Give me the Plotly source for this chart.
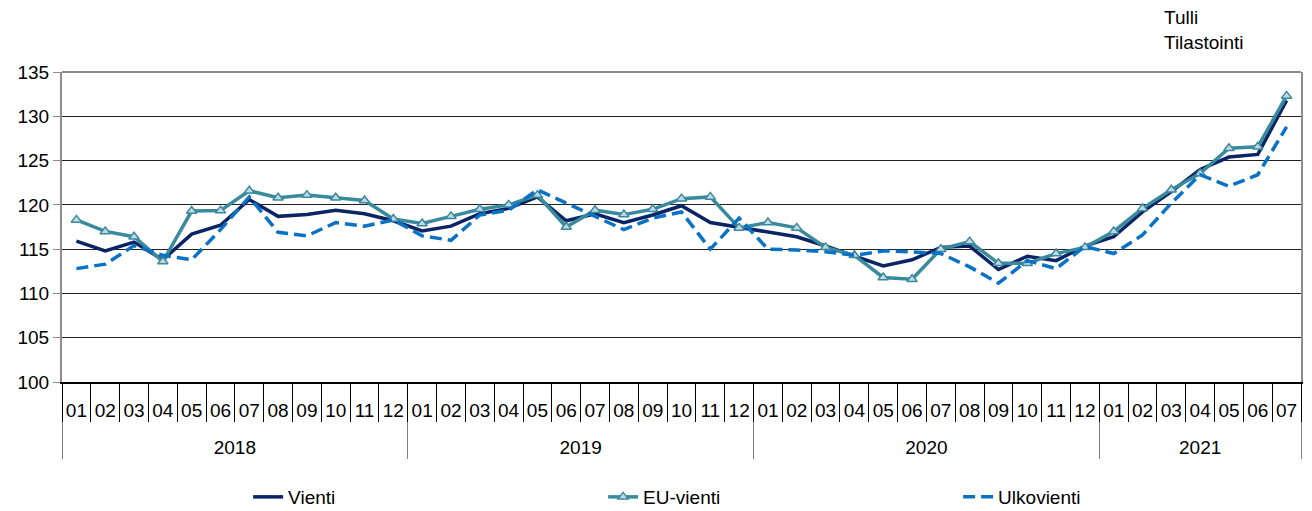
import plotly.graph_objects as go

years = ["2018"] * 12 + ["2019"] * 12 + ["2020"] * 12 + ["2021"] * 7
months = [f"{m:02d}" for m in range(1, 13)] * 3 + [f"{m:02d}" for m in range(1, 8)]

vienti = [115.9, 114.8, 115.8, 113.8, 116.7, 117.7, 120.6, 118.7, 118.9, 119.4, 119.0, 118.2,
          117.05, 117.6, 119.0, 119.6, 120.9, 118.2, 119.0, 118.0, 118.85, 119.9, 118.0, 117.5,
          117.0, 116.4, 115.35, 114.2, 113.1, 113.8, 115.2, 115.35, 112.7, 114.2, 113.7, 115.35,
          116.4, 119.2, 121.5, 124.0, 125.4, 125.7, 131.8]
eu_vienti = [118.3, 117.0, 116.4, 113.6, 119.3, 119.35, 121.6, 120.8, 121.1, 120.8, 120.5, 118.4,
             117.9, 118.7, 119.5, 120.0, 121.1, 117.5, 119.4, 118.9, 119.5, 120.7, 120.9, 117.4,
             118.0, 117.4, 115.2, 114.3, 111.8, 111.6, 115.0, 115.85, 113.4, 113.4, 114.5, 115.2,
             117.0, 119.6, 121.7, 123.55, 126.4, 126.55, 132.3]
ulkovienti = [112.8, 113.3, 115.4, 114.3, 113.8, 117.2, 120.9, 116.9, 116.5, 118.0, 117.6, 118.3,
              116.5, 116.0, 118.85, 119.4, 121.7, 120.2, 118.7, 117.2, 118.5, 119.2, 115.0, 118.5,
              115.0, 114.9, 114.7, 114.3, 114.8, 114.7, 114.5, 113.0, 111.15, 113.7, 112.8, 115.3,
              114.5, 116.6, 120.2, 123.4, 122.1, 123.4, 128.8]

FONT = "Liberation Sans, Arial, sans-serif"
x = [years, months]
x_flat = [f"{y}-{m}" for y, m in zip(years, months)]
n = len(months)

fig = go.Figure()
fig.add_trace(go.Scatter(x=x, y=vienti, name="Vienti", mode="lines",
                         line=dict(color="#0b2466", width=3.5)))
fig.add_trace(go.Scatter(x=x, y=eu_vienti, name="EU-vienti", mode="lines+markers",
                         line=dict(color="#3a8a9e", width=3.5),
                         marker=dict(symbol="triangle-up", size=9, color="#c3d7e4",
                                     line=dict(color="#3a8a9e", width=1.5))))
# same category positions, on an overlaid plain category axis that draws the month separators
fig.add_trace(go.Scatter(x=x_flat, y=ulkovienti, name="Ulkovienti", mode="lines",
                         xaxis="x2",
                         line=dict(color="#0a72c4", width=3.5, dash="12px,6px")))

# page body has an 8px default margin: the figure is sized so it ends at the window edge
fig.update_layout(
    template="none",
    width=1304, height=503,
    margin=dict(l=54, r=11, t=64, b=129, autoexpand=False),
    paper_bgcolor="white", plot_bgcolor="white",
    font=dict(family=FONT, size=19, color="black"),
    showlegend=True,
    legend=dict(orientation="h", x=0.58, xanchor="center", y=-0.371, yanchor="middle",
                entrywidth=310, entrywidthmode="pixels", font=dict(size=19)),
    annotations=[dict(text="Tulli<br>Tilastointi", xref="paper", yref="paper",
                      x=0.888, y=1.215, xanchor="left", yanchor="top", align="left",
                      showarrow=False, font=dict(size=19))],
    shapes=[dict(type="line", xref="paper", yref="paper", x0=0, x1=1, y0=1, y1=1,
                 line=dict(color="#8c8c8c", width=2))],
    xaxis2=dict(type="category", overlaying="x", anchor="y", side="bottom",
                range=[-0.5, n - 0.5], autorange=False,
                showticklabels=False, showline=False, showgrid=False, zeroline=False,
                ticks="outside", tickson="boundaries", ticklen=39, tickcolor="black",
                tickwidth=1),
)
fig.layout.xaxis.update(type="multicategory", range=[-0.5, n - 0.5], autorange=False,
                        showline=True, linecolor="black", linewidth=1.5,
                        ticks="outside", tickson="boundaries", ticklen=62,
                        tickcolor="rgba(0,0,0,0)", tickwidth=1, tickangle=0,
                        ticklabelstandoff=10, ticksuffix="<br>\u00a0",
                        showdividers=True, dividercolor="#808080", dividerwidth=1,
                        showgrid=False, zeroline=False, automargin=False,
                        tickfont=dict(size=19))
fig.update_yaxes(range=[100, 135], dtick=5, showgrid=True, gridcolor="#222", gridwidth=1,
                 showline=True, mirror=True, linecolor="#8c8c8c", linewidth=2,
                 ticks="outside", ticklen=7, tickcolor="#8c8c8c", zeroline=False,
                 automargin=False, tickfont=dict(size=19))

fig.write_html("out.html")
